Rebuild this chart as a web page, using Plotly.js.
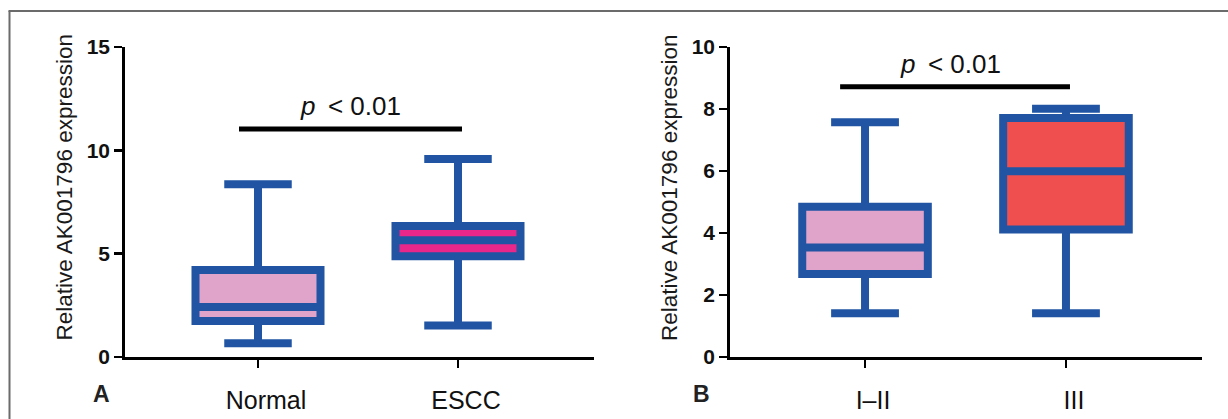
<!DOCTYPE html>
<html>
<head>
<meta charset="utf-8">
<script src="https://cdn.plot.ly/plotly-3.0.1.min.js"></script>
<style>html,body{margin:0;padding:0;background:#fff;}#chart{width:1228px;height:419px;}</style>
</head>
<body>
<div id="chart"></div>
<script>
// ---- Data ----
const groupsA = ['Normal', 'ESCC'];
const minA = [0.66, 1.53];
const q1A = [1.74, 4.87];
const medA = [2.42, 5.65];
const q3A = [4.21, 6.34];
const maxA = [8.36, 9.58];

const groupsB = ['I\u2013II', 'III'];
const minB = [1.41, 1.41];
const q1B = [2.68, 4.11];
const medB = [3.53, 5.99];
const q3B = [4.85, 7.71];
const maxB = [7.57, 8.01];

const yTitle = 'Relative AK001796 expression';
const pText = '<i>p</i>\u2009 < 0.01';
const sigA = 11.03;  // level of significance bar, panel A
const sigB = 8.72;   // level of significance bar, panel B

// ---- Styles ----
const blue = '#2155A4';
const fillsA = ['#E0A3C9', '#E9278A'];
const fillsB = ['#E0A3C9', '#EF4F4F'];
const font = 'Liberation Sans, Arial, sans-serif';

const traces = [];
function addBoxes(groups, mins, q1s, meds, q3s, maxs, fills, xa, ya) {
  groups.forEach((g, i) => {
    traces.push({
      type: 'box',
      x: [g], q1: [q1s[i]], median: [meds[i]], q3: [q3s[i]],
      lowerfence: [mins[i]], upperfence: [maxs[i]],
      fillcolor: fills[i],
      line: { color: blue, width: 8 },
      width: 0.625,
      whiskerwidth: 0.54,
      boxpoints: false,
      hoverinfo: 'skip',
      xaxis: xa, yaxis: ya,
      showlegend: false
    });
  });
}
addBoxes(groupsA, minA, q1A, medA, q3A, maxA, fillsA, 'x', 'y');
addBoxes(groupsB, minB, q1B, medB, q3B, maxB, fillsB, 'x2', 'y2');

function xAxis(domain, range, anchor) {
  return {
    domain: domain, range: range, type: 'category', anchor: anchor,
    showline: true, linecolor: '#000', linewidth: 2.8,
    ticks: 'outside', ticklen: 8, tickwidth: 2.8, tickcolor: '#000',
    showgrid: false, zeroline: false,
    tickfont: { family: font, size: 25, color: '#111' },
    ticklabelstandoff: 11, ticklabelshift: 8,
    fixedrange: true
  };
}
function yAxis(domain, range, dtick, anchor) {
  return {
    domain: domain, range: range, dtick: dtick, anchor: anchor,
    showline: true, linecolor: '#000', linewidth: 2.8,
    ticks: 'outside', ticklen: 8, tickwidth: 2.8, tickcolor: '#000',
    showgrid: false, zeroline: false,
    tickfont: { family: font, size: 21, color: '#111', weight: 'bold' },
    fixedrange: true
  };
}

const yDom = [1 - 357 / 419, 1 - 47 / 419];
const titleFont = { family: font, size: 22.5, color: '#1a1a1a' };
const layout = {
  width: 1228, height: 419,
  margin: { l: 0, r: 0, t: 0, b: 0 },
  paper_bgcolor: '#fff', plot_bgcolor: 'rgba(0,0,0,0)',
  showlegend: false,
  boxmode: 'overlay',
  xaxis: xAxis([125 / 1228, 594 / 1228], [-0.665, 1.68], 'y'),
  yaxis: yAxis(yDom, [0, 15], 5, 'x'),
  xaxis2: xAxis([730 / 1228, 1202 / 1228], [-0.672, 1.677], 'y2'),
  yaxis2: yAxis(yDom, [0, 10], 2, 'x2'),
  shapes: [
    // outer frame (left and top)
    { type: 'line', xref: 'paper', yref: 'paper', x0: 9.5 / 1228, x1: 9.5 / 1228, y0: 0, y1: 1 - 11 / 419, line: { color: '#6b6b6b', width: 2 } },
    { type: 'line', xref: 'paper', yref: 'paper', x0: 8.5 / 1228, x1: 1, y0: 1 - 11 / 419, y1: 1 - 11 / 419, line: { color: '#6b6b6b', width: 2 } },
    // significance bars
    { type: 'line', xref: 'x', yref: 'y', x0: -0.095, x1: 1.02, y0: sigA, y1: sigA, line: { color: '#000', width: 5 } },
    { type: 'line', xref: 'x2', yref: 'y2', x0: -0.124, x1: 1.02, y0: sigB, y1: sigB, line: { color: '#000', width: 5 } }
  ],
  annotations: [
    // y-axis titles
    { xref: 'paper', yref: 'paper', x: 63.5 / 1228, y: 1 - 188 / 419, xanchor: 'center', yanchor: 'middle',
      text: yTitle, textangle: -90, showarrow: false, font: titleFont },
    { xref: 'paper', yref: 'paper', x: 669 / 1228, y: 1 - 188 / 419, xanchor: 'center', yanchor: 'middle',
      text: yTitle, textangle: -90, showarrow: false, font: titleFont },
    // significance labels
    { xref: 'x', yref: 'y', x: 0.46, y: sigA, yshift: 6, yanchor: 'bottom', text: pText, showarrow: false,
      font: { family: font, size: 26, color: '#111' } },
    { xref: 'x2', yref: 'y2', x: 0.423, y: sigB, yshift: 6, yanchor: 'bottom', text: pText, showarrow: false,
      font: { family: font, size: 26, color: '#111' } },
    // panel letters
    { xref: 'paper', yref: 'paper', x: 101 / 1228, y: 1 - 394 / 419, xanchor: 'center', yanchor: 'middle',
      text: 'A', showarrow: false, font: { family: font, size: 23, color: '#222', weight: 'bold' } },
    { xref: 'paper', yref: 'paper', x: 701 / 1228, y: 1 - 394 / 419, xanchor: 'center', yanchor: 'middle',
      text: 'B', showarrow: false, font: { family: font, size: 23, color: '#222', weight: 'bold' } }
  ]
};

Plotly.newPlot('chart', traces, layout, { staticPlot: true, displayModeBar: false });
</script>
</body>
</html>
